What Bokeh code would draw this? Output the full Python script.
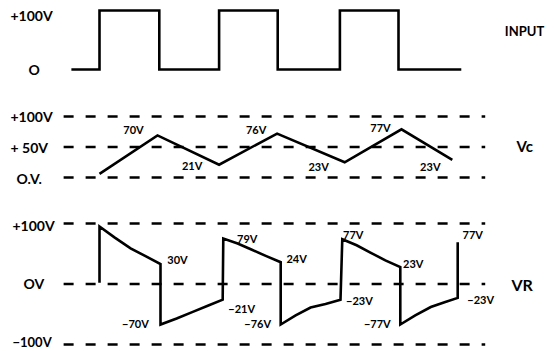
from bokeh.plotting import figure
from bokeh.models import Range1d, ColumnDataSource
from bokeh.core.properties import value
from bokeh.embed import file_html
from bokeh.resources import INLINE

# ---------------- data ----------------
input_t = [-0.47, 0.0, 1.0, 2.0, 2.98, 4.02, 5.0, 6.05]
input_v = [0, 100, 0, 100, 0, 100, 0, 0]
input_ticks = [100, 0]
input_tick_labels = ["+100V", "O"]

vc_t = [0.0, 0.97, 2.0, 2.97, 4.1, 5.05, 5.9]
vc_v = [6, 69, 21, 72, 25, 79, 29]
vc_levels = [100, 50, 0]
vc_tick_labels = ["+100V", "+ 50V", "O.V."]
vc_point_labels = ["70V", "21V", "76V", "23V", "77V", "23V"]
vc_label_points = [1, 2, 3, 4, 5, 6]

vr_t = [0, 0, 0.25, 0.52, 0.77, 1.02, 1.02, 1.29, 1.56, 1.81, 2.06, 2.07, 2.31, 2.54,
        2.79, 3.03, 3.03, 3.28, 3.53, 3.78, 4.03, 4.06, 4.30, 4.53, 4.78, 5.03, 5.03,
        5.28, 5.54, 5.77, 5.99, 5.99]
vr_v = [2, 95, 77, 59, 46, 33, -67, -57, -46, -36, -26, 75, 67, 57, 46, 36, -67, -52,
        -39, -33, -26, 74, 64, 52, 39, 28, -67, -52, -38, -30, -23, 69]
vr_levels = [100, 0, -100]
vr_tick_labels = ["+100V", "OV", "\u2212100V"]
vr_point_labels = ["30V", "\u221270V", "\u221221V", "79V", "24V", "\u221276V",
                   "\u221223V", "77V", "23V", "\u221277V", "\u221223V", "77V"]
vr_label_points = [5, 6, 10, 11, 15, 16, 20, 21, 25, 26, 30, 31]

panel_names = ["INPUT", "Vc", "VR"]

# ---------------- layout / style ----------------
W, H = 556, 351
PX_PER_T = 59.8
T0_PX = 99  # screen x of t=0 inside the canvas


def frame_range(v_top, y_top, v_bot, y_bot):
    s = (y_bot - y_top) / (v_top - v_bot)
    return Range1d(start=v_bot - (H - y_bot) / s, end=v_top + y_top / s)


x_start = -T0_PX / PX_PER_T
x_range = Range1d(x_start, x_start + W / PX_PER_T)

r_in = frame_range(100, 10, 0, 69)
r_vc = frame_range(100, 116, 0, 177)
r_vr = frame_range(100, 223, -100, 344)

p = figure(width=W, height=H, x_range=x_range, y_range=r_in,
           x_axis_type=None, y_axis_type=None, output_backend="svg",
           toolbar_location=None, min_border=0)
p.extra_y_ranges = {"vc": r_vc, "vr": r_vr}
p.outline_line_color = None
p.background_fill_color = "white"
p.border_fill_color = "white"

FONT = value("Lato")
INK = "#000000"
LW = 2.6
DASH = "10 12"
grid_x0, grid_x1 = -0.6, 6.45

# dashed reference levels
p.segment(x0=grid_x0, x1=grid_x1, y0=vc_levels, y1=vc_levels, y_range_name="vc",
          line_color=INK, line_width=LW, line_dash=DASH)
p.segment(x0=grid_x0, x1=grid_x1, y0=vr_levels, y1=vr_levels, y_range_name="vr",
          line_color=INK, line_width=LW, line_dash=DASH)

# waveforms
p.step(input_t, input_v, mode="after", line_color=INK, line_width=LW, line_join="miter")
p.line(vc_t, vc_v, y_range_name="vc", line_color=INK, line_width=LW, line_join="miter")
p.line(vr_t, vr_v, y_range_name="vr", line_color=INK, line_width=LW, line_join="miter")


# left level labels
def left_labels(levels, labels, lx, dy, rname, size="14px"):
    src = ColumnDataSource(dict(x=[x_start] * len(levels), y=levels, text=labels,
                                dx=lx, dy=dy))
    p.text(x="x", y="y", text="text", source=src, x_offset="dx", y_offset="dy",
           text_font=FONT, text_font_style="bold", text_font_size=size,
           text_align="left", text_baseline="middle", text_color=INK,
           y_range_name=rname)


left_labels(input_ticks, input_tick_labels, [10, 28], [5, 0], "default")
left_labels(vc_levels, vc_tick_labels, [10, 10, 16], [0, 0, 1], "vc")
left_labels(vr_levels[:2], vr_tick_labels[:2], [12, 23], [2, -1], "vr")
left_labels(vr_levels[2:], vr_tick_labels[2:], [12], [-3], "vr", size="13px")

# right panel names
p.text(x=[x_start], y=[50], text=[panel_names[0]], x_offset=[524], y_offset=[-9],
       text_font=FONT, text_font_style="bold", text_font_size="13px",
       text_align="center", text_baseline="middle", text_color=INK)
p.text(x=[x_start], y=[50], text=[panel_names[1]], x_offset=[516], y_offset=[-1],
       text_font=FONT, text_font_style="bold", text_font_size="15px",
       text_align="left", text_baseline="middle", text_color=INK, y_range_name="vc")
p.text(x=[x_start], y=[0], text=[panel_names[2]], x_offset=[511], y_offset=[0],
       text_font=FONT, text_font_style="bold", text_font_size="16px",
       text_align="left", text_baseline="middle", text_color=INK, y_range_name="vr")

# point value labels
vc_src = ColumnDataSource(dict(
    x=[vc_t[i] for i in vc_label_points], y=[vc_v[i] for i in vc_label_points],
    text=vc_point_labels,
    dx=[-24, -27, -21, -26, -21, -22], dy=[-6, 1, -4, 4, -2, 7]))
p.text(x="x", y="y", text="text", source=vc_src, x_offset="dx", y_offset="dy",
       text_font=FONT, text_font_style="bold", text_font_size="11px",
       text_align="center", text_baseline="middle", text_color=INK, y_range_name="vc")

vr_src = ColumnDataSource(dict(
    x=[vr_t[i] for i in vr_label_points], y=[vr_v[i] for i in vr_label_points],
    text=vr_point_labels,
    dx=[17, -25, 19, 24, 16, -23, 19, 11, 13, -23, 23, 15],
    dy=[-5, -1, 9, 0, -4, -1, 1, -5, -4, -1, 2, -8]))
p.text(x="x", y="y", text="text", source=vr_src, x_offset="dx", y_offset="dy",
       text_font=FONT, text_font_style="bold", text_font_size="11px",
       text_align="center", text_baseline="middle", text_color=INK, y_range_name="vr")

open("out.html", "w").write(file_html(p, INLINE))
